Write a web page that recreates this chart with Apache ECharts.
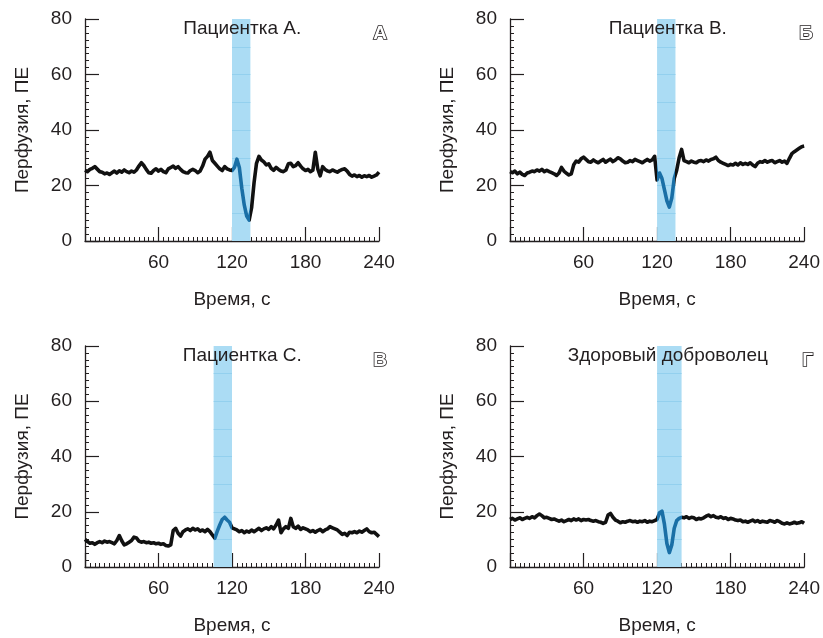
<!DOCTYPE html>
<html><head><meta charset="utf-8">
<script src="https://cdn.jsdelivr.net/npm/echarts@6/dist/echarts.min.js"></script>
<style>html,body{margin:0;padding:0;background:#fff}#c{width:823px;height:638px}</style>
</head><body><div id="c"></div>
<script>
// sampling step of the traces, seconds
const sampleStep = 2;
const panelTitles = ['Пациентка А.', 'Пациентка В.', 'Пациентка С.', 'Здоровый доброволец'];
const panelLetters = ['А', 'Б', 'В', 'Г'];
const bandStart = [120, 120, 105, 120];
const bandEnd = [135, 135, 120, 140];
const xTicks = [60, 120, 180, 240];
const yTicks = [0, 20, 40, 60, 80];
const bandGridY = [10, 20, 30, 40, 50, 60, 70];
const xName = 'Время, с';
const yName = 'Перфузия, ПЕ';

const perfusionA = [25.5,25,25.8,26.2,26.8,25.9,25,24.8,24.2,24.5,24,24.6,25.2,24.5,25.3,24.8,25.6,25,24.6,25.2,24.8,25.6,27,28.2,27.2,25.8,24.6,24.4,25.4,26,25.2,25.8,25,24.6,26,26.5,27,26.2,26.8,25.8,25,24.6,24.5,25.4,25.8,25.4,24.6,25.2,27,29.5,30.5,32,29,28,27,26,25.4,26.8,26,25.6,25.4,26.5,29.5,26.5,19,13,9,7.5,12,21,28,30.5,29.2,28.5,27.4,27.8,26.2,25.5,26.5,25.8,25.2,25,25.6,27.8,28,26.8,27.2,28.2,27,26,25.4,25.8,25,25.5,32,26,23.5,26.8,25.8,25.2,25,25.6,25.2,24.8,25.4,25.8,26,25.2,24,23.4,23.8,23.2,23.6,23,23.5,23.2,23.6,23,23.4,23.8,24.8];
const perfusionB = [25,24.6,25.2,24.2,24.8,24,23.6,24.5,24.8,25.2,25,25.6,25.2,25.8,25,25.5,25,24.6,24.2,23.6,24.5,26.5,25.2,24.4,23.8,24.2,27.5,28.8,28.4,29.6,30.2,29.4,28.6,28.4,29.2,28.6,28.2,28.8,29.4,28.4,29,29.5,28.6,29.2,30,29.6,28.8,28.2,28.4,29,28.6,29.4,29,28.6,28.2,28.8,29.4,28.8,29.2,30.5,22,24.5,22.5,18.5,14.5,12.2,15.5,22.5,25.5,30,33,29,28.6,28.2,28.8,28.4,28.2,28.8,29,28.6,29.2,28.8,29.4,29.6,30.2,29,28.4,28,27.6,27.2,27.6,27.4,28,27.4,28.2,27.6,28,27.6,28.2,27.4,26.8,28,28.6,28.4,29,28.4,28.8,29,28.2,28.6,29,28.4,28.8,28,29.8,31.5,32.2,32.8,33.4,34,34.2];
const perfusionC = [10,9.2,8.6,8.8,8.2,8.8,9.2,8.8,9.4,9,9.2,8.8,8.4,9.6,11.4,9.5,8,8.4,9,9.6,10.8,10.5,9.4,9,9.2,8.8,9,8.6,8.8,8.4,8.6,8.2,8.4,7.8,7.6,8,13.2,14,12.2,11.2,12.8,13.4,13.8,13.2,14,13.4,13.8,13,13.4,12.8,13.6,12.8,11.6,10.4,13,15.2,17.2,18,17,16.2,14.2,13.8,13.4,12.8,13.2,12.4,13,12.6,13.4,12.8,13.4,14,13.2,13.8,14.2,13.6,14.6,13.8,15.2,17,12.4,13.8,14.6,14,17.6,14.6,14,14.8,13.6,14.2,13.8,13.4,12.8,13.2,12.6,13.2,13.6,12.8,13.4,13.8,14.6,14.2,13.8,13.4,12.6,11.8,12.2,11.4,12.6,12.4,12.8,12.4,13,12.6,13.2,13.8,12.8,12.4,12.6,11.8,11];
const perfusionD = [17.2,17.6,17,17.4,17.8,17.2,17.6,18,17.6,18.2,17.8,18.6,19.2,18.6,17.8,18,17.6,17.2,17.4,17,16.6,17,16.4,16.8,17.2,16.8,17.4,17,17.4,16.8,17.2,17,17.2,16.8,16.6,16.8,16.4,16.2,15.8,16.2,18.8,19.4,18,17,16.6,16,16.4,16.2,16.6,16.8,16.4,16.6,16.2,16.6,16.4,16.8,16.2,16.6,16.4,16.8,17.2,19.6,20.2,15.5,8.5,5.2,8,14,16.8,17.6,18,17.8,18.2,17.6,18,17.8,17.2,17.6,17.4,17.8,18.4,18.8,18.2,18.6,18,17.8,18.2,17.6,17.8,17.2,17.6,17.4,17,16.8,17,16.4,16.6,16.2,16.6,17,16.4,16.8,16.2,16.6,16.4,16.2,16.8,16.6,16.2,16.8,16.4,15.8,15.6,16,15.6,15.8,16.2,15.8,16,16.4,15.8];
const panelSeries = [perfusionA, perfusionB, perfusionC, perfusionD];

const grids = [
  {left: 85, top: 19, width: 294, height: 222},
  {left: 510, top: 19, width: 295, height: 222},
  {left: 85, top: 346, width: 294, height: 221},
  {left: 510, top: 346, width: 295, height: 221}
];
const ink = '#231f20';
const font = 'Liberation Sans, Arial, sans-serif';

const chart = echarts.init(document.getElementById('c'), null, {renderer: 'canvas'});
const xAxes = [], yAxes = [], series = [], visualMaps = [], graphics = [];
panelSeries.forEach((vals, i) => {
  xAxes.push({
    gridIndex: i, type: 'value', min: 0, max: 240, interval: 60,
    axisLine: {show: true, onZero: false, lineStyle: {color: ink, width: 1.3}},
    axisTick: {show: true, inside: true, length: 14, lineStyle: {color: ink, width: 1.2}},
    minorTick: {show: true, splitNumber: 15, length: 4, lineStyle: {color: ink, width: 1}},
    splitLine: {show: false},
    axisLabel: {color: ink, fontSize: 19, fontFamily: font, margin: 12,
      formatter: v => xTicks.indexOf(v) >= 0 ? String(v) : ''},
    name: xName, nameLocation: 'middle', nameGap: 49,
    nameTextStyle: {color: ink, fontSize: 19, fontFamily: font}
  });
  yAxes.push({
    gridIndex: i, type: 'value', min: 0, max: 80, interval: 20,
    axisLine: {show: true, onZero: false, lineStyle: {color: ink, width: 1.3}},
    axisTick: {show: true, inside: true, length: 14, lineStyle: {color: ink, width: 1.2}},
    minorTick: {show: true, splitNumber: 8, length: 4, lineStyle: {color: ink, width: 1}},
    splitLine: {show: false},
    axisLabel: {color: ink, fontSize: 19, fontFamily: font, margin: 13,
      formatter: v => yTicks.indexOf(v) >= 0 ? String(v) : ''},
    name: yName, nameLocation: 'middle', nameGap: 53,
    nameTextStyle: {color: ink, fontSize: 19, fontFamily: font}
  });
  const data = vals.map((v, k) => [k * sampleStep, v]);
  series.push({
    type: 'line', xAxisIndex: i, yAxisIndex: i, data: data,
    showSymbol: false, symbol: 'none', lineStyle: {width: 3.6, join: 'round'},
    z: 5,
    markArea: {silent: true, itemStyle: {color: '#abdcf4', opacity: 1},
      data: [[{xAxis: bandStart[i]}, {xAxis: bandEnd[i]}]]},
    markLine: {silent: true, symbol: 'none', label: {show: false},
      lineStyle: {color: '#93d0ee', width: 1, type: 'solid'},
      data: bandGridY.map(y => [{coord: [bandStart[i], y]}, {coord: [bandEnd[i], y]}])}
  });
  visualMaps.push({
    type: 'piecewise', show: false, seriesIndex: i, dimension: 0,
    pieces: [{gte: bandStart[i], lte: bandEnd[i], color: '#1a6fa6'}],
    outOfRange: {color: '#111111'}
  });
  const g = grids[i];
  graphics.push({
    type: 'text', x: g.left + g.width * 0.535, y: g.top + 10, z: 100,
    style: {text: panelTitles[i], fill: ink, font: '19px ' + font, textAlign: 'center', textVerticalAlign: 'middle'}
  });
  graphics.push({
    type: 'text', x: g.left + g.width + 8, y: g.top + 15, z: 100,
    style: {text: panelLetters[i], fill: '#ffffff', stroke: ink, lineWidth: 1.6,
      font: 'bold 19px ' + font, textAlign: 'right', textVerticalAlign: 'middle'}
  });
});

chart.setOption({
  animation: false,
  backgroundColor: '#ffffff',
  grid: grids.map(g => Object.assign({containLabel: false}, g)),
  xAxis: xAxes, yAxis: yAxes, series: series, visualMap: visualMaps,
  graphic: graphics
});
</script></body></html>
